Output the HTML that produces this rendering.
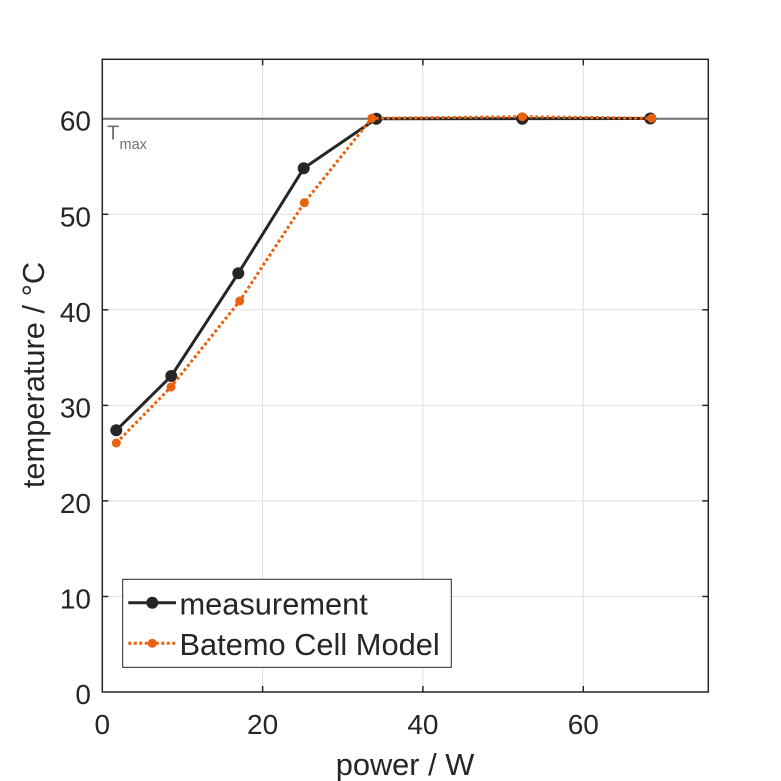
<!DOCTYPE html>
<html>
<head>
<meta charset="utf-8">
<style>
  html, body { margin:0; padding:0; background:#ffffff; }
  body { width:781px; height:781px; overflow:hidden; }
  svg { display:block; }
  text { font-family: "Liberation Sans", Arial, sans-serif; fill:#262626; }
</style>
</head>
<body>
<svg width="781" height="781" viewBox="0 0 781 781" xmlns="http://www.w3.org/2000/svg">
  <rect x="0" y="0" width="781" height="781" fill="#ffffff"/>
  <!-- plot area -->
  <rect x="102.3" y="59.3" width="606" height="632.7" fill="#ffffff"/>
  <!-- grid -->
  <g stroke="#dfdfdf" stroke-width="1">
    <line x1="262.6" y1="59.3" x2="262.6" y2="692"/>
    <line x1="422.9" y1="59.3" x2="422.9" y2="692"/>
    <line x1="583.3" y1="59.3" x2="583.3" y2="692"/>
    <line x1="102.3" y1="596.5" x2="708.3" y2="596.5"/>
    <line x1="102.3" y1="500.9" x2="708.3" y2="500.9"/>
    <line x1="102.3" y1="405.4" x2="708.3" y2="405.4"/>
    <line x1="102.3" y1="309.8" x2="708.3" y2="309.8"/>
    <line x1="102.3" y1="214.3" x2="708.3" y2="214.3"/>
    <line x1="102.3" y1="118.7" x2="708.3" y2="118.7"/>
  </g>
  <!-- Tmax line -->
  <line x1="102.3" y1="118.7" x2="708.3" y2="118.7" stroke="#6e6e6e" stroke-width="2"/>
  <text x="107" y="139.3" font-size="20" style="fill:#707070">T</text>
  <text x="119.5" y="149" font-size="14.5" style="fill:#707070">max</text>

  <!-- measurement -->
  <polyline fill="none" stroke="#262626" stroke-width="3" stroke-linejoin="round"
    points="116.3,430.3 171.3,376 238.3,273.3 303.7,168.3 376.3,118.7 522.3,118.6 650.3,118.5"/>
  <g fill="#262626">
    <circle cx="116.3" cy="430.3" r="6"/>
    <circle cx="171.3" cy="376" r="6"/>
    <circle cx="238.3" cy="273.3" r="6"/>
    <circle cx="303.7" cy="168.3" r="6"/>
    <circle cx="376.3" cy="118.7" r="6"/>
    <circle cx="522.3" cy="118.8" r="6"/>
    <circle cx="650.3" cy="118.5" r="6"/>
  </g>
  <!-- model -->
  <polyline fill="none" stroke="#e8620f" stroke-width="3" stroke-dasharray="3 2.5"
    points="116.3,443 171,387 239.7,301 304.3,202.7 371.7,118.3 522.3,116.7 651.7,118.3"/>
  <g fill="#e8620f">
    <circle cx="116.3" cy="443" r="4.5"/>
    <circle cx="171" cy="387" r="4.5"/>
    <circle cx="239.7" cy="301" r="4.5"/>
    <circle cx="304.3" cy="202.7" r="4.5"/>
    <circle cx="371.7" cy="118.3" r="4.5"/>
    <circle cx="522.3" cy="116.7" r="4.5"/>
    <circle cx="651.7" cy="118.3" r="4.5"/>
  </g>

  <!-- axes box -->
  <rect x="102.3" y="59.3" width="606" height="632.7" fill="none" stroke="#262626" stroke-width="1.5"/>
  <!-- ticks -->
  <g stroke="#262626" stroke-width="1.5">
    <line x1="262.6" y1="692" x2="262.6" y2="686"/>
    <line x1="422.9" y1="692" x2="422.9" y2="686"/>
    <line x1="583.3" y1="692" x2="583.3" y2="686"/>
    <line x1="262.6" y1="59.3" x2="262.6" y2="65.3"/>
    <line x1="422.9" y1="59.3" x2="422.9" y2="65.3"/>
    <line x1="583.3" y1="59.3" x2="583.3" y2="65.3"/>
    <line x1="102.3" y1="596.5" x2="108.3" y2="596.5"/>
    <line x1="102.3" y1="500.9" x2="108.3" y2="500.9"/>
    <line x1="102.3" y1="405.4" x2="108.3" y2="405.4"/>
    <line x1="102.3" y1="309.8" x2="108.3" y2="309.8"/>
    <line x1="102.3" y1="214.3" x2="108.3" y2="214.3"/>
    <line x1="708.3" y1="596.5" x2="702.3" y2="596.5"/>
    <line x1="708.3" y1="500.9" x2="702.3" y2="500.9"/>
    <line x1="708.3" y1="405.4" x2="702.3" y2="405.4"/>
    <line x1="708.3" y1="309.8" x2="702.3" y2="309.8"/>
    <line x1="708.3" y1="214.3" x2="702.3" y2="214.3"/>
  </g>

  <!-- y tick labels -->
  <g font-size="28" text-anchor="end">
    <text x="91" y="704">0</text>
    <text x="91" y="608.5">10</text>
    <text x="91" y="513">20</text>
    <text x="91" y="417.4">30</text>
    <text x="91" y="321.8">40</text>
    <text x="91" y="226.3">50</text>
    <text x="91" y="130.7">60</text>
  </g>
  <!-- x tick labels -->
  <g font-size="28" text-anchor="middle">
    <text x="102.3" y="734">0</text>
    <text x="262.6" y="734">20</text>
    <text x="422.9" y="734">40</text>
    <text x="583.3" y="734">60</text>
  </g>
  <!-- axis labels -->
  <text x="405" y="775" font-size="30.8" text-anchor="middle">power / W</text>
  <text transform="translate(44,375) rotate(-90)" font-size="30.8" text-anchor="middle">temperature / °C</text>

  <!-- legend -->
  <rect x="122.7" y="579.3" width="328.6" height="88" fill="#ffffff" stroke="#262626" stroke-width="1"/>
  <line x1="128.3" y1="602.7" x2="176" y2="602.7" stroke="#262626" stroke-width="3"/>
  <circle cx="152.3" cy="602.7" r="6" fill="#262626"/>
  <line x1="128.3" y1="643.3" x2="176" y2="643.3" stroke="#e8620f" stroke-width="3" stroke-dasharray="3 2.5"/>
  <circle cx="152.3" cy="643.3" r="4.5" fill="#e8620f"/>
  <text x="179.5" y="614.3" font-size="30.8">measurement</text>
  <text x="179.5" y="655" font-size="30.8">Batemo Cell Model</text>
</svg>
</body>
</html>
